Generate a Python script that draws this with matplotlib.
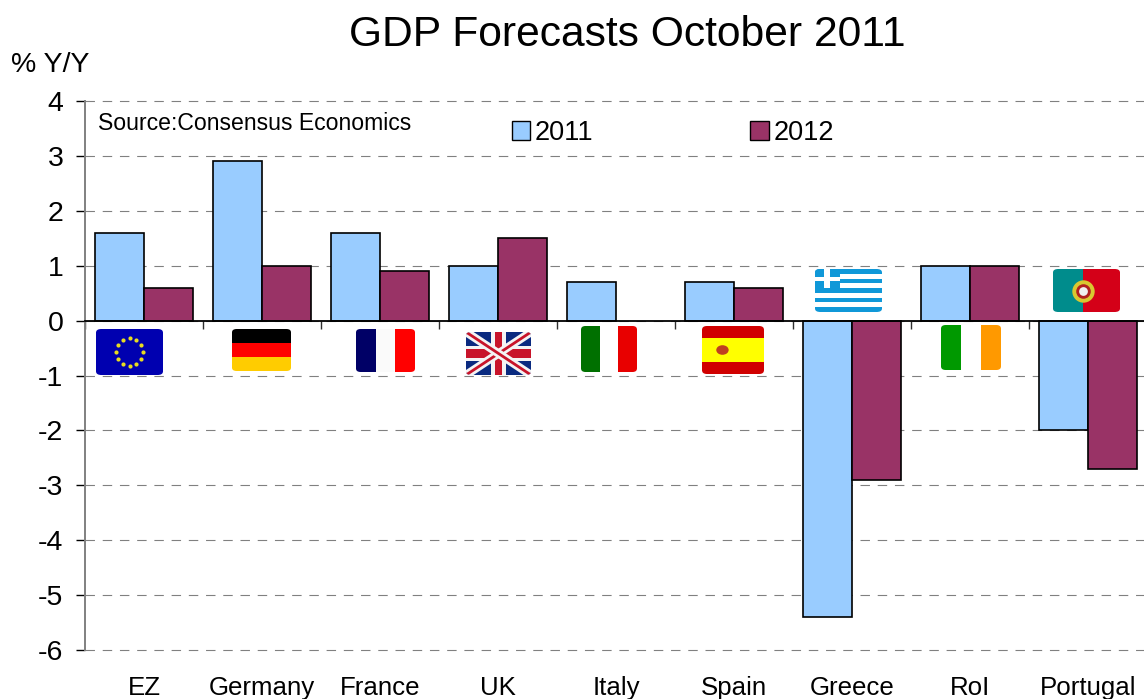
import matplotlib
matplotlib.use("Agg")
import matplotlib.pyplot as plt
import numpy as np
from matplotlib.patches import FancyBboxPatch, Rectangle, Circle
from matplotlib.transforms import blended_transform_factory

plt.rcParams['font.family'] = ['Liberation Sans', 'DejaVu Sans']

categories = ["EZ", "Germany", "France", "UK", "Italy", "Spain", "Greece", "RoI", "Portugal"]
values_2011 = [1.6, 2.9, 1.6, 1.0, 0.7, 0.7, -5.4, 1.0, -2.0]
values_2012 = [0.6, 1.0, 0.9, 1.5, 0.0, 0.6, -2.9, 1.0, -2.7]
y_ticks = [4, 3, 2, 1, 0, -1, -2, -3, -4, -5, -6]
y_tick_labels = ["4", "3", "2", "1", "0", "-1", "-2", "-3", "-4", "-5", "-6"]

# Flag placement in pixels: left, top, right, bottom
flag_boxes = {
    "EZ": (96, 329, 163, 375),
    "Germany": (232, 329, 291, 371),
    "France": (356, 329, 415, 372),
    "UK": (466, 332, 531, 375),
    "Italy": (581, 326, 637, 372),
    "Spain": (702, 326, 764, 374),
    "Greece": (815, 269, 882, 312),
    "RoI": (941, 325, 1001, 370),
    "Portugal": (1053, 269, 1120, 312),
}

W, H = 1144, 699
BLUE, PLUM = "#99CCFF", "#993366"

fig = plt.figure(figsize=(W / 100, H / 100), dpi=100, facecolor="white")


def px_rect(left, top, right, bottom):
    return [left / W, 1 - bottom / H, (right - left) / W, (bottom - top) / H]


ax = fig.add_axes(px_rect(85, 101, 1147, 650))
x = np.arange(len(categories))
width = 49 / 118

ax.set_xlim(-0.5, len(categories) - 0.5)
ax.set_ylim(-6, 4)

ax.set_axisbelow(True)
ax.yaxis.grid(True, color="#808080", linewidth=0.8, linestyle=(0, (8.5, 7)), clip_on=False)
ax.xaxis.grid(False)

common = dict(edgecolor="black", linewidth=1.2, zorder=3)
bars_a = ax.bar(x - width / 2, values_2011, width, color=BLUE, label="2011", **common)
bars_b = ax.bar(x + width / 2, values_2012, width, color=PLUM, label="2012", **common)
for patch, value in zip(bars_b, values_2012):
    patch.set_visible(value != 0)

for side in ("top", "right"):
    ax.spines[side].set_visible(False)
ax.spines["left"].set_color("#808080")
ax.spines["left"].set_linewidth(1.4)
ax.spines["bottom"].set_position(("data", 0))
ax.spines["bottom"].set_color("black")
ax.spines["bottom"].set_linewidth(1.3)
ax.spines["bottom"].set_zorder(4)

ax.set_xticks(np.arange(-0.5, len(categories) + 0.5))
ax.tick_params(axis="x", length=5.5, width=1, color="#303030", labelbottom=False)
ax.set_yticks(y_ticks)
ax.set_yticklabels(y_tick_labels, fontsize=20.5, color="black")
ax.tick_params(axis="y", length=6.5, width=1, color="black", pad=9)

trans = blended_transform_factory(ax.transData, fig.transFigure)
for xi, name in zip(x, categories):
    ax.text(xi, 1 - 688 / H, name, transform=trans, ha="center", va="center",
            fontsize=18.6, color="black", clip_on=False)

fig.text(627 / W, 1 - 35 / H, "GDP Forecasts October 2011", ha="center", va="center",
         fontsize=30.7, color="black")
fig.text(11 / W, 1 - 65 / H, "% Y/Y", ha="left", va="center", fontsize=20.5, color="black")
fig.text(98 / W, 1 - 124 / H, "Source:Consensus Economics", ha="left", va="center",
         fontsize=16.6, color="black")

leg = fig.legend(handles=[bars_a, bars_b], labels=["2011", "2012"], ncol=2, frameon=False,
                 loc="center left", bbox_to_anchor=(511.5 / W, 1 - 133 / H),
                 fontsize=19.5, handlelength=0.7, handleheight=0.66, handletextpad=0.16,
                 columnspacing=5.78, borderpad=0, borderaxespad=0)
for h in leg.legend_handles:
    h.set_linewidth(1.0)


def flag_axes(name):
    left, top, right, bottom = flag_boxes[name]
    a = fig.add_axes(px_rect(left, top, right, bottom), zorder=5)
    a.set_xlim(0, 1)
    a.set_ylim(0, 1)
    a.axis("off")
    clip = FancyBboxPatch((0, 0), 1, 1, boxstyle="round,pad=0,rounding_size=0.08",
                          transform=a.transAxes, facecolor="none", edgecolor="none")
    a.add_patch(clip)
    return a, clip


def bands(a, clip, colours, vertical):
    n = len(colours)
    for i, c in enumerate(colours):
        if vertical:
            r = Rectangle((i / n, 0), 1 / n, 1, facecolor=c, edgecolor="none")
        else:
            r = Rectangle((0, 1 - (i + 1) / n), 1, 1 / n, facecolor=c, edgecolor="none")
        a.add_patch(r)
        r.set_clip_path(clip)


# European Union
a, clip = flag_axes("EZ")
bands(a, clip, ["#0000B0"], True)
angles = np.linspace(0, 2 * np.pi, 12, endpoint=False)
a.scatter(0.5 + 0.2 * np.cos(angles), 0.5 + 0.3 * np.sin(angles), s=9, color="#E8DC20", linewidths=0)

a, clip = flag_axes("Germany")
bands(a, clip, ["#000000", "#FF0000", "#FFCC00"], False)

a, clip = flag_axes("France")
bands(a, clip, ["#000066", "#FAFAFA", "#FF0000"], True)

# Union flag
a, clip = flag_axes("UK")
bands(a, clip, ["#0A2A80"], True)
for (x0, y0, x1, y1) in [(0, 0, 1, 1), (0, 1, 1, 0)]:
    ln, = a.plot([x0, x1], [y0, y1], color="#F4F4F4", lw=6, solid_capstyle="butt")
    ln.set_clip_path(clip)
    ln, = a.plot([x0, x1], [y0, y1], color="#C8142A", lw=2, solid_capstyle="butt")
    ln.set_clip_path(clip)
for r in [Rectangle((0, 0.33), 1, 0.34, facecolor="#F4F4F4"), Rectangle((0.39, 0), 0.22, 1, facecolor="#F4F4F4"),
          Rectangle((0, 0.39), 1, 0.22, facecolor="#C8142A"), Rectangle((0.44, 0), 0.12, 1, facecolor="#C8142A")]:
    r.set_edgecolor("none")
    a.add_patch(r)
    r.set_clip_path(clip)

a, clip = flag_axes("Italy")
bands(a, clip, ["#007000", "#FFFFFF", "#E80000"], True)

# Spain
a, clip = flag_axes("Spain")
bands(a, clip, ["#D00000", "#FFFF00", "#FFFF00", "#D00000"], False)
a.add_patch(Circle((0.33, 0.5), 0.1, facecolor="#C04020", edgecolor="none"))

# Greece
a, clip = flag_axes("Greece")
stripe_cols = ["#1098D8", "#FFFFFF"] * 4 + ["#1098D8"]
bands(a, clip, stripe_cols, False)
r = Rectangle((0, 5 / 9), 0.37, 4 / 9, facecolor="#1098D8", edgecolor="none")
a.add_patch(r)
r.set_clip_path(clip)
for r in [Rectangle((0, 0.71), 0.37, 0.1, facecolor="white", edgecolor="none"),
          Rectangle((0.14, 5 / 9), 0.09, 4 / 9, facecolor="white", edgecolor="none")]:
    a.add_patch(r)
    r.set_clip_path(clip)

a, clip = flag_axes("RoI")
bands(a, clip, ["#009900", "#FFFFFF", "#FF9900"], True)

# Portugal
a, clip = flag_axes("Portugal")
r1 = Rectangle((0, 0), 0.45, 1, facecolor="#008C8C", edgecolor="none")
r2 = Rectangle((0.45, 0), 0.55, 1, facecolor="#D40018", edgecolor="none")
for r in (r1, r2):
    a.add_patch(r)
    r.set_clip_path(clip)
a.scatter([0.45], [0.5], s=260, color="#D8C830", linewidths=0, zorder=3)
a.scatter([0.45], [0.5], s=110, color="#B02020", linewidths=0, zorder=4)
a.scatter([0.45], [0.5], s=40, color="#F0F0F0", linewidths=0, zorder=5)

fig.savefig("out.png", dpi=100, facecolor="white")
